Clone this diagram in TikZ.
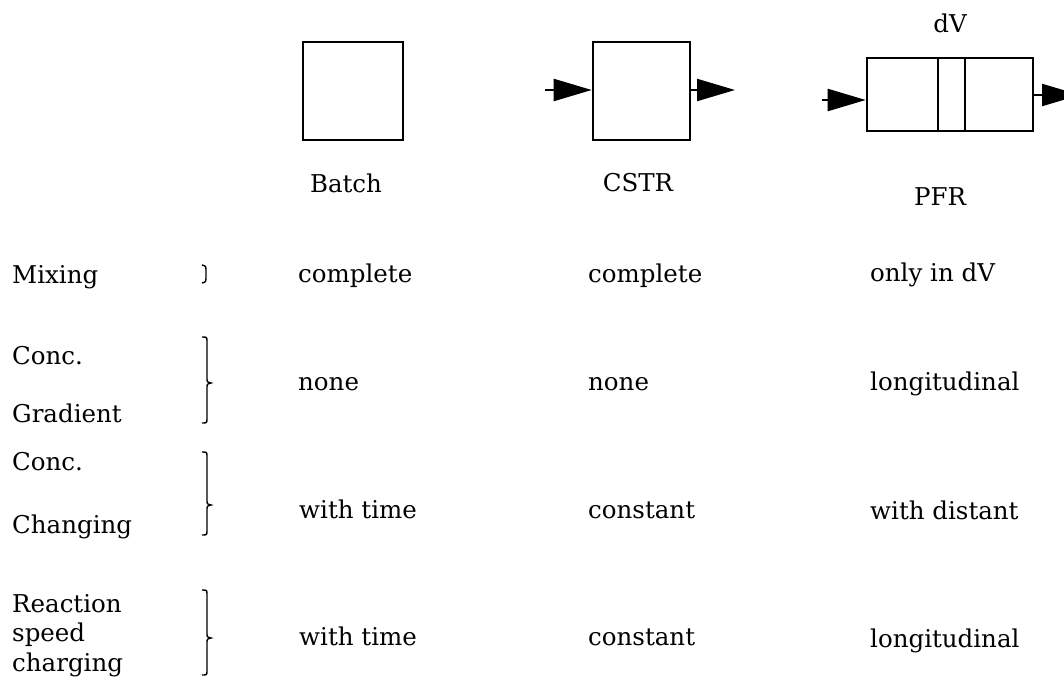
\documentclass[tikz,border=0pt]{standalone}
\usepackage{fontspec}
\setmainfont{DejaVu Serif}
\usetikzlibrary{arrows.meta}
\tikzset{
  box/.style={draw, line width=2.6pt, inner sep=0pt},
  divider/.style={line width=1.8pt},
  flow/.style={line width=2.2pt, -{Triangle[length=38pt,width=22pt]}},
  lbl/.style={anchor=base west, inner sep=0pt},
  hdr/.style={anchor=base, inner sep=0pt},
  br/.style={line width=1.4pt}
}
\newcommand{\mybrace}[3]{%
  \draw[br] (202,#1) .. controls (207,#1) .. (207,{#1+5}) -- (207,{#2-5})
    .. controls (207,{#2-1}) .. (211,#2) .. controls (207,{#2+1}) .. (207,{#2+5})
    -- (207,{#3-5}) .. controls (207,#3) .. (202,#3);}
\begin{document}
\begin{tikzpicture}[x=1pt,y=-1pt,font=\fontsize{24.5}{28}\selectfont]
\useasboundingbox (0,0) rectangle (1064,685);
% reactors
\node[box, minimum width=100pt, minimum height=98pt] (batch) at (353,91) {};
\node[box, minimum width=97pt, minimum height=98pt] (cstr) at (641.5,91) {};
\node[box, minimum width=166pt, minimum height=73pt] (pfr) at (950,94.5) {};
\draw[divider] (938,0 |- pfr.north) -- (938,0 |- pfr.south);
\draw[divider] (965,0 |- pfr.north) -- (965,0 |- pfr.south);
% flows
\coordinate (cin) at (545,90);
\coordinate (cout) at (735,90);
\coordinate (pin) at (822,100);
\coordinate (pout) at (1080,95);
\draw[flow] (cin) -- (cin -| cstr.west);
\draw[flow] (cstr.east |- cout) -- (cout);
\draw[flow] (pin) -- (pin -| pfr.west);
\draw[flow] (pfr.east |- pout) -- (pout);
% headers
\node[hdr] (dv) at (950,33) {dV};
\node[hdr] (hbatch) at (346,192) {Batch};
\node[hdr] (hcstr) at (638,191) {CSTR};
\node[hdr] (hpfr) at (940,205) {PFR};
% row labels
\node[lbl] (l1) at (12,283) {Mixing};
\node[lbl] (l2a) at (12,364) {Conc.};
\node[lbl] (l2b) at (12,422) {Gradient};
\node[lbl] (l3a) at (12,470) {Conc.};
\node[lbl] (l3b) at (12,533) {Changing};
\node[lbl] (l4a) at (12,612) {Reaction};
\node[lbl] (l4b) at (12,641) {speed};
\node[lbl] (l4c) at (12,671) {charging};
% braces
\draw[br] (202,265) .. controls (206,266) .. (206,272) -- (206,276) .. controls (206,282) .. (202,283);
\mybrace{337}{383}{423}
\mybrace{452}{505}{535}
\mybrace{590}{638}{675}
% values
\node[lbl] (v11) at (298,282) {complete};
\node[lbl] (v12) at (588,282) {complete};
\node[lbl] (v13) at (870,281) {only in dV};
\node[lbl] (v21) at (298,390) {none};
\node[lbl] (v22) at (588,390) {none};
\node[lbl] (v23) at (870,390) {longitudinal};
\node[lbl] (v31) at (299,518) {with time};
\node[lbl] (v32) at (588,518) {constant};
\node[lbl] (v33) at (870,519) {with distant};
\node[lbl] (v41) at (299,645) {with time};
\node[lbl] (v42) at (588,645) {constant};
\node[lbl] (v43) at (870,647) {longitudinal};
\end{tikzpicture}
\end{document}
